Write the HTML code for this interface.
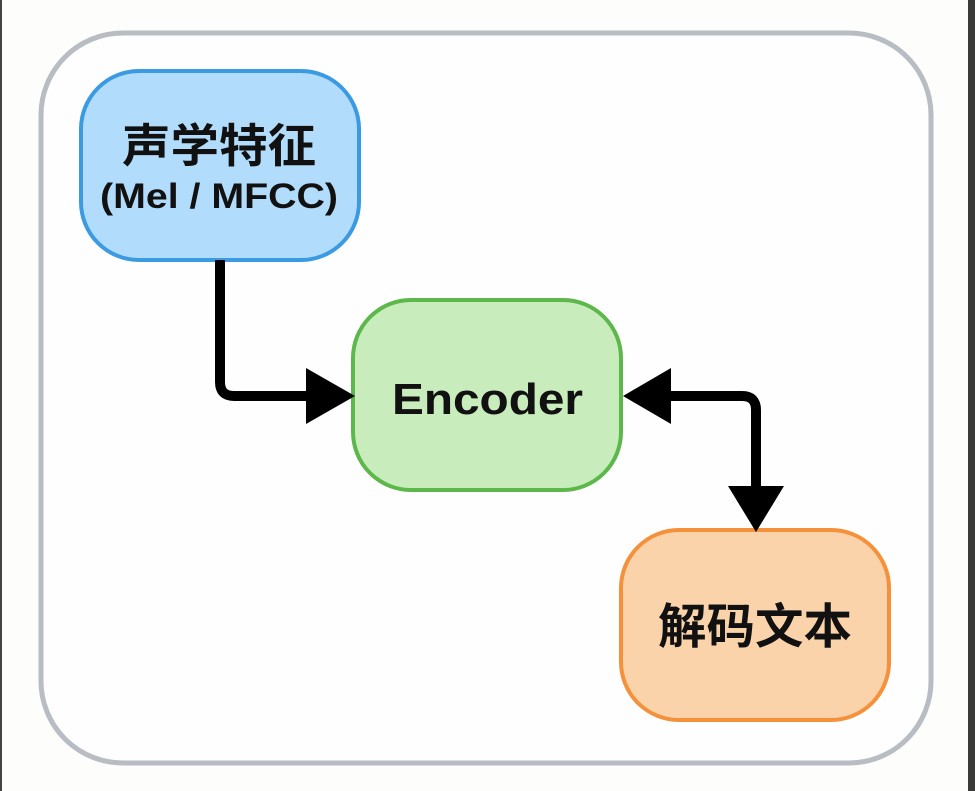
<!DOCTYPE html>
<html><head><meta charset="utf-8"><style>
html,body{margin:0;padding:0;background:#fdfdfc;}
svg{display:block}
text{font-family:"Liberation Sans","Noto Sans CJK SC",sans-serif;fill:#111;}
</style></head><body>
<svg width="975" height="791" viewBox="0 0 975 791" xmlns="http://www.w3.org/2000/svg">
<rect x="0" y="0" width="975" height="791" fill="#fdfdfc"/>
<rect x="0" y="0" width="2" height="791" fill="#444"/>
<rect x="968" y="0" width="7" height="791" fill="#3a3a3a"/>
<rect x="41" y="33" width="890" height="730" rx="82" fill="#fefefe" stroke="#b8bcc3" stroke-width="5"/>
<rect x="81" y="71" width="278" height="189" rx="58" fill="#b2dcfb" stroke="#3a9ae2" stroke-width="4"/>
<rect x="353" y="300" width="268" height="190" rx="58" fill="#c8ecbb" stroke="#5cb84a" stroke-width="4"/>
<rect x="621" y="530" width="268" height="190" rx="58" fill="#fbd3aa" stroke="#f5913a" stroke-width="4"/>
<path d="M220 260 V382 Q220 396 234 396 H310" fill="none" stroke="#000" stroke-width="10"/>
<polygon points="306,368 306,424 355,396" fill="#000"/>
<path d="M665 396 H742 Q756 396 756 410 V492" fill="none" stroke="#000" stroke-width="10"/>
<polygon points="671,368 671,424 623,396" fill="#000"/>
<polygon points="728,486 784,486 756,532" fill="#000"/>
<text x="122" y="162" font-size="46" font-weight="bold" textLength="194" lengthAdjust="spacingAndGlyphs">声学特征</text>
<text x="100" y="208" font-size="35" font-weight="bold" textLength="238" lengthAdjust="spacingAndGlyphs">(Mel / MFCC)</text>
<text x="392" y="414" font-size="44" font-weight="bold" textLength="191" lengthAdjust="spacingAndGlyphs">Encoder</text>
<text x="658" y="643" font-size="48" font-weight="bold" textLength="194" lengthAdjust="spacingAndGlyphs">解码文本</text>
</svg>
</body></html>
